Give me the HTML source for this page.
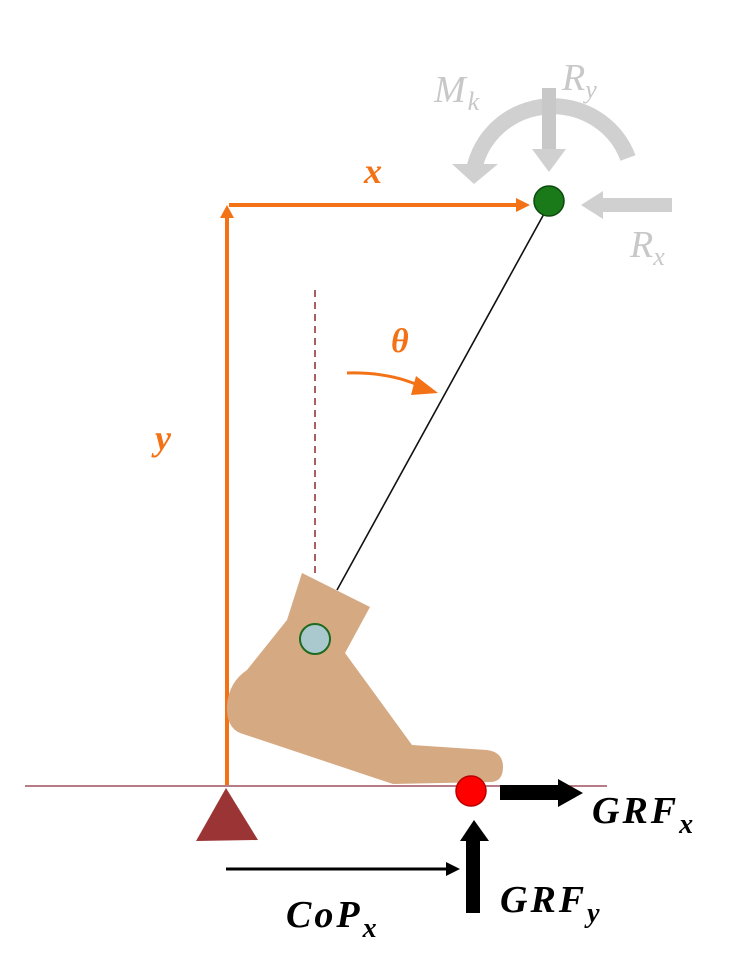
<!DOCTYPE html>
<html><head><meta charset="utf-8"><style>
html,body{margin:0;padding:0;background:#fff;}
svg{display:block}
text{font-family:"Liberation Serif",serif;font-style:italic;font-weight:bold;}
</style></head><body>
<svg width="755" height="973" viewBox="0 0 755 973" xmlns="http://www.w3.org/2000/svg">
<!-- gray loads -->
<path d="M474,170 A80,78 0 0 1 628,158" fill="none" stroke="#d0d0d0" stroke-width="16"/>
<polygon points="452,164 498,164 474,184" fill="#d0d0d0"/>
<rect x="542" y="88" width="14" height="62" fill="#c8c8c8"/>
<polygon points="532,149 566,149 549,172" fill="#d0d0d0"/>
<rect x="600" y="198" width="72" height="14" fill="#d0d0d0"/>
<polygon points="603,191 603,219 581,205" fill="#d0d0d0"/>
<text x="434" y="102" font-size="38" fill="#c8c8c8" style="font-weight:normal;letter-spacing:2px">M<tspan font-size="26" dy="8">k</tspan></text>
<text x="562" y="90" font-size="38" fill="#c8c8c8" style="font-weight:normal">R<tspan font-size="26" dy="8">y</tspan></text>
<text x="630" y="257" font-size="38" fill="#c8c8c8" style="font-weight:normal">R<tspan font-size="26" dy="8">x</tspan></text>
<!-- orange axes -->
<line x1="227" y1="785" x2="227" y2="216" stroke="#f47216" stroke-width="4"/>
<polygon points="220,218 234,218 227,205" fill="#f47216"/>
<line x1="229" y1="205" x2="518" y2="205" stroke="#f47216" stroke-width="4"/>
<polygon points="516,198 516,212 530,205" fill="#f47216"/>
<text x="364" y="183" font-size="36" fill="#f47216">x</text>
<text x="155" y="450" font-size="36" fill="#f47216">y</text>
<text x="391" y="352" font-size="34" fill="#f47216">θ</text>
<path d="M347,373 Q390,372 420,386" fill="none" stroke="#f47216" stroke-width="3"/>
<polygon points="416,376 411,395 438,393" fill="#f47216"/>
<!-- dashed vertical -->
<line x1="315" y1="290" x2="315" y2="578" stroke="#8b2a2a" stroke-width="1.5" stroke-dasharray="7,5"/>
<!-- leg line -->
<line x1="337" y1="590" x2="545" y2="212" stroke="#111" stroke-width="1.6"/>
<!-- foot -->
<path d="M302,573 L370,607 L345,653 L412,745 L487,750 Q503,752 503,767 Q503,782 490,782 L393,784 L240,733 Q226,727 227,705 Q229,682 247,670 L287,620 Z" fill="#d5a982"/>
<circle cx="315" cy="639" r="15" fill="#a9c9cf" stroke="#1e6a1e" stroke-width="2"/>
<circle cx="549" cy="201" r="15" fill="#1a7a1a" stroke="#0d4a0d" stroke-width="1.5"/>
<!-- ground -->
<line x1="25" y1="786" x2="607" y2="786" stroke="#a05060" stroke-width="1.5"/>
<polygon points="226,788 196,841 258,840" fill="#9b3535"/>
<circle cx="471" cy="791" r="15" fill="#f00" stroke="#b00" stroke-width="1.5"/>
<!-- GRF arrows -->
<rect x="500" y="785" width="60" height="15" fill="#000"/>
<polygon points="558,779 558,807 583,793" fill="#000"/>
<rect x="466" y="838" width="14" height="75" fill="#000"/>
<polygon points="460,841 489,841 474,820" fill="#000"/>
<line x1="226" y1="869" x2="448" y2="869" stroke="#000" stroke-width="3"/>
<polygon points="446,862 446,876 460,869" fill="#000"/>
<text x="592" y="823" font-size="38" fill="#000" style="letter-spacing:3px">GRF<tspan font-size="28" dy="10">x</tspan></text>
<text x="500" y="912" font-size="38" fill="#000" style="letter-spacing:3px">GRF<tspan font-size="28" dy="10">y</tspan></text>
<text x="286" y="927" font-size="38" fill="#000" style="letter-spacing:3px">CoP<tspan font-size="28" dy="10">x</tspan></text>
</svg>
</body></html>
